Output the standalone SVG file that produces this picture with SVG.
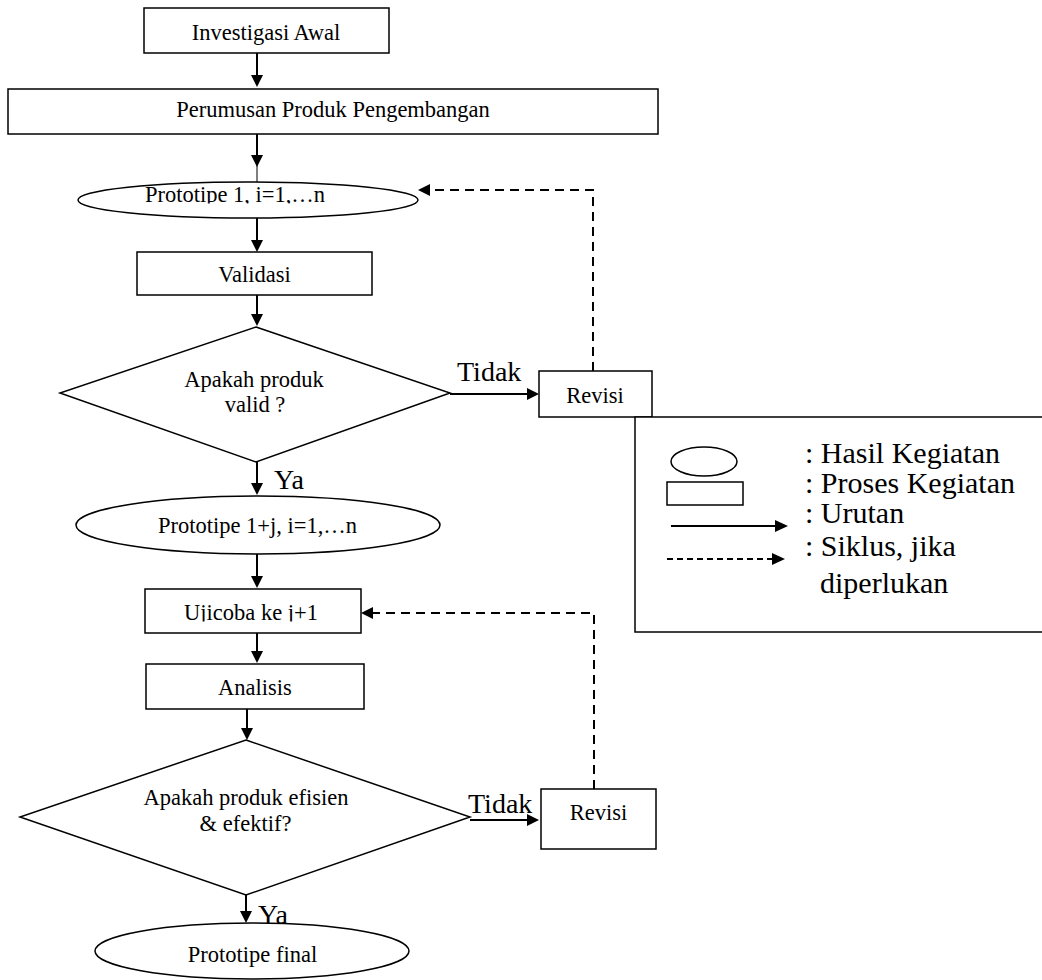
<svg xmlns="http://www.w3.org/2000/svg" width="1042" height="980" viewBox="0 0 1042 980">
<style>
.shape{fill:#fff;stroke:#000;stroke-width:1.5}
.t{font-family:"Liberation Serif","Times New Roman",serif;font-size:22.5px;fill:#000;text-anchor:middle}
.lbl{font-family:"Liberation Serif","Times New Roman",serif;font-size:28px;fill:#000}
.leg{font-family:"Liberation Serif","Times New Roman",serif;font-size:30px;fill:#000}
.ln{fill:none;stroke:#000;stroke-width:2}
.dash{fill:none;stroke:#000;stroke-width:2;stroke-dasharray:9 6}
.dash2{fill:none;stroke:#000;stroke-width:1.8;stroke-dasharray:6 4}
.ah{fill:#000}
</style>
<defs>
<clipPath id="c1"><rect x="0" y="0" width="1042" height="203.5"/></clipPath>
<clipPath id="c2"><rect x="0" y="0" width="1042" height="621.5"/></clipPath>
</defs>

<g id="connectors">
  <line class="ln" x1="257" y1="53" x2="257" y2="76"/>
  <polygon class="ah" points="251,75 263,75 257,87"/>
  <line class="ln" x1="257" y1="134" x2="257" y2="160"/>
  <line x1="257" y1="160" x2="257" y2="183" stroke="#000" stroke-width="1"/>
  <polygon class="ah" points="251,155 263,155 257,167"/>
  <line class="ln" x1="257" y1="218" x2="257" y2="242"/>
  <polygon class="ah" points="251,240 263,240 257,252"/>
  <line class="ln" x1="257" y1="295" x2="257" y2="316"/>
  <polygon class="ah" points="251,314 263,314 257,326"/>
  <line class="ln" x1="450" y1="394" x2="528" y2="394"/>
  <polygon class="ah" points="527,388 527,400 539,394"/>
  <polyline class="dash" points="593,371 593,190 428,190"/>
  <polygon class="ah" points="430,184 430,196 418,190"/>
  <line class="ln" x1="257" y1="462" x2="257" y2="485"/>
  <polygon class="ah" points="251,483 263,483 257,495"/>
  <line class="ln" x1="257" y1="554" x2="257" y2="578"/>
  <polygon class="ah" points="251,576 263,576 257,588"/>
  <line class="ln" x1="257" y1="633" x2="257" y2="652"/>
  <polygon class="ah" points="251,651 263,651 257,663"/>
  <line class="ln" x1="247" y1="709" x2="247" y2="730"/>
  <polygon class="ah" points="241,728 253,728 247,740"/>
  <line class="ln" x1="470" y1="820" x2="529" y2="820"/>
  <polygon class="ah" points="527,814 527,826 539,820"/>
  <polyline class="dash" points="594,789 594,613 371,613"/>
  <polygon class="ah" points="373,607 373,619 361,613"/>
  <line class="ln" x1="246" y1="895" x2="246" y2="913"/>
  <polygon class="ah" points="240,911 252,911 246,923"/>
  <text class="lbl" x="457" y="381">Tidak</text>
  <text class="lbl" x="274" y="489">Ya</text>
  <text class="lbl" x="468" y="813">Tidak</text>
  <text class="lbl" x="258" y="924">Ya</text>
</g>

<g id="investigasi">
  <rect class="shape" x="144" y="8" width="245" height="45"/>
  <text class="t" x="266" y="40">Investigasi Awal</text>
</g>
<g id="perumusan">
  <rect class="shape" x="8" y="89" width="650" height="45"/>
  <text class="t" x="333" y="117">Perumusan Produk Pengembangan</text>
</g>
<g id="prototipe1">
  <ellipse class="shape" cx="248" cy="200" rx="170" ry="18"/>
  <text class="t" x="235" y="202" clip-path="url(#c1)">Prototipe 1, i=1,…n</text>
</g>
<g id="validasi">
  <rect class="shape" x="137" y="252" width="235" height="43"/>
  <text class="t" x="254.5" y="282">Validasi</text>
</g>
<g id="keputusan1">
  <polygon class="shape" points="256,327 450,393 256,462 60,393"/>
  <text class="t" x="254" y="387">Apakah produk</text>
  <text class="t" x="255" y="412">valid ?</text>
</g>
<g id="revisi1">
  <rect class="shape" x="539" y="371" width="113" height="46"/>
  <text class="t" x="595" y="403">Revisi</text>
</g>
<g id="prototipe2">
  <ellipse class="shape" cx="258" cy="525" rx="182" ry="29"/>
  <text class="t" x="257.5" y="533">Prototipe 1+j, i=1,…n</text>
</g>
<g id="ujicoba">
  <rect class="shape" x="145" y="589" width="216" height="44"/>
  <text class="t" x="251" y="620" clip-path="url(#c2)">Ujicoba ke j+1</text>
</g>
<g id="analisis">
  <rect class="shape" x="146" y="664" width="218" height="45"/>
  <text class="t" x="255" y="695">Analisis</text>
</g>
<g id="keputusan2">
  <polygon class="shape" points="246,740 470,817 246,895 20,817"/>
  <text class="t" x="246" y="805">Apakah produk efisien</text>
  <text class="t" x="245.5" y="831">&amp; efektif?</text>
</g>
<g id="revisi2">
  <rect class="shape" x="541" y="789" width="115" height="60"/>
  <text class="t" x="598.5" y="820">Revisi</text>
</g>
<g id="prototipefinal">
  <ellipse class="shape" cx="252" cy="951" rx="157" ry="28"/>
  <text class="t" x="252.5" y="962">Prototipe final</text>
</g>

<g id="legenda">
  <rect class="shape" x="635" y="417" width="420" height="215"/>
  <ellipse class="shape" cx="704" cy="461.5" rx="33" ry="14.5"/>
  <rect class="shape" x="667" y="482" width="76" height="23"/>
  <line class="ln" x1="671" y1="526" x2="776" y2="526"/>
  <polygon class="ah" points="775,520 775,532 788,526"/>
  <line class="dash2" x1="667" y1="559" x2="772" y2="559"/>
  <polygon class="ah" points="772,553 772,565 785,559"/>
  <text class="leg" x="805" y="463">: Hasil Kegiatan</text>
  <text class="leg" x="805" y="493">: Proses Kegiatan</text>
  <text class="leg" x="805" y="523">: Urutan</text>
  <text class="leg" x="805" y="556">: Siklus, jika</text>
  <text class="leg" x="820" y="593">diperlukan</text>
</g>
</svg>
